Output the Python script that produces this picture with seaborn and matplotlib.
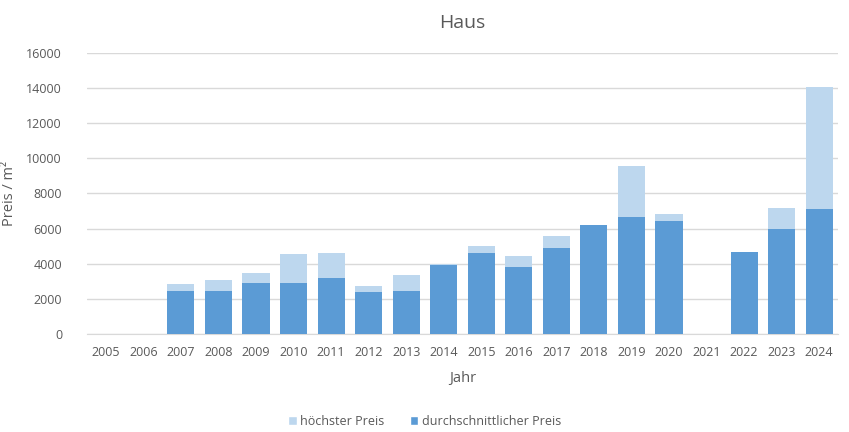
import numpy as np
import pandas as pd
import matplotlib
matplotlib.use("Agg")
import matplotlib.pyplot as plt
import seaborn as sns
from matplotlib.patches import Patch

years = ["2005", "2006", "2007", "2008", "2009", "2010", "2011", "2012", "2013", "2014",
         "2015", "2016", "2017", "2018", "2019", "2020", "2021", "2022", "2023", "2024"]
hoechster = [np.nan, np.nan, 2820, 3100, 3450, 4530, 4590, 2760, 3330, 4000,
             4990, 4420, 5560, 6190, 9540, 6820, np.nan, 4650, 7160, 14050]
durchschnitt = [np.nan, np.nan, 2470, 2470, 2930, 2930, 3160, 2380, 2470, 3900,
                4590, 3790, 4870, 6190, 6650, 6420, np.nan, 4650, 5960, 7100]

title = "Haus"
xlabel = "Jahr"
ylabel = "Preis / m²"
labels = ["höchster Preis", "durchschnittlicher Preis"]
light = "#BDD7EE"
dark = "#5B9BD5"
gray = "#595959"

df = pd.DataFrame({"Jahr": years, "max": hoechster, "avg": durchschnitt})

sns.set_style("white")
plt.rcParams["font.family"] = ["Open Sans", "DejaVu Sans"]

fig = plt.figure(figsize=(8.49, 4.32), dpi=100)
ax = fig.add_axes([0.1025, 0.2269, 0.8845, 0.6505])

sns.barplot(data=df, x="Jahr", y="max", order=years, color=light, width=0.72,
            saturation=1, linewidth=0, ax=ax, zorder=2)
sns.barplot(data=df, x="Jahr", y="avg", order=years, color=dark, width=0.72,
            saturation=1, linewidth=0, ax=ax, zorder=3)

ax.set_ylim(0, 16000)
ax.set_xlim(-0.5, len(years) - 0.5)
ax.set_yticks(np.arange(0, 16001, 2000))
ax.yaxis.grid(True, color="#D9D9D9", linewidth=1)
ax.set_axisbelow(True)
for s in ["top", "right", "left"]:
    ax.spines[s].set_visible(False)
ax.spines["bottom"].set_color("#D9D9D9")
ax.tick_params(axis="both", length=0, labelsize=9, colors=gray)
ax.tick_params(axis="y", pad=18)
ax.tick_params(axis="x", pad=9)

ax.set_title(title, fontsize=14, color=gray, pad=18)
ax.set_xlabel(xlabel, fontsize=10.5, color=gray, labelpad=8)
ax.set_ylabel(ylabel, fontsize=10.5, color=gray)
ax.yaxis.set_label_coords(-0.093, 0.5)

handles = [Patch(facecolor=light, label=labels[0]), Patch(facecolor=dark, label=labels[1])]
fig.legend(handles=handles, loc="center", bbox_to_anchor=(0.5, 0.025), ncol=2,
           frameon=False, fontsize=9, handlelength=0.7, handleheight=0.7,
           handletextpad=0.3, columnspacing=2.0, labelcolor=gray)

fig.savefig("out.png", dpi=100)
